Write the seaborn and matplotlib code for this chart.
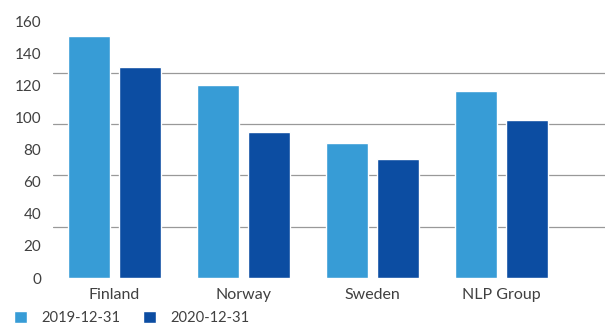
import numpy as np
import pandas as pd
import matplotlib
matplotlib.use("Agg")
import matplotlib.pyplot as plt
import seaborn as sns

# ==========================================
# Data
# ==========================================

regions = ["Finland", "Norway", "Sweden", "NLP Group"]
series = ["2019-12-31", "2020-12-31"]
values_2019 = [151, 120, 84, 116.6]
values_2020 = [131.5, 91, 74, 98.5]
ytick_values = list(range(0, 161, 20))
grid_values = list(range(0, 161, 32))

colors = ["#379CD6", "#0C4DA2"]
text_color = "#404040"

df = pd.DataFrame({
    "region": regions * 2,
    "date": [series[0]] * len(regions) + [series[1]] * len(regions),
    "value": values_2019 + values_2020,
})

# ==========================================
# Plot
# ==========================================

sns.set_style("white")
plt.rcParams["font.family"] = ["Lato", "DejaVu Sans"]

fig = plt.figure(figsize=(6.05, 3.24), dpi=100)
ax = fig.add_axes([53 / 605, 1 - 278 / 324, 1 - 53 / 605, (278 - 21.3) / 324])

sns.barplot(
    data=df,
    x="region",
    y="value",
    hue="date",
    palette=colors,
    width=0.79,
    gap=0.175,
    saturation=1,
    ax=ax,
)

ax.set_ylim(0, 160)
ax.set_xlim(-0.477, 3.80)
ax.set_xlabel("")
ax.set_ylabel("")

ax.set_yticks(ytick_values)
ax.set_yticks(grid_values, minor=True)
ax.grid(False)
ax.grid(which="minor", axis="y", color="#999999", linewidth=0.9)
ax.set_axisbelow(True)

ax.tick_params(axis="y", which="both", length=0, pad=8.6, labelsize=11,
               labelcolor=text_color)
ax.tick_params(axis="x", length=0, pad=7.5, labelsize=11.5, labelcolor=text_color)

for s in ax.spines.values():
    s.set_visible(False)

handles, labels = ax.get_legend_handles_labels()
ax.get_legend().remove()
fig.legend(
    handles, labels,
    loc="center left",
    bbox_to_anchor=(14 / 605, 6 / 324),
    ncol=2,
    frameon=False,
    fontsize=10.6,
    labelcolor=text_color,
    handlelength=0.88,
    handleheight=0.88,
    handletextpad=0.95,
    columnspacing=1.6,
    borderpad=0,
    borderaxespad=0,
)

plt.savefig("out.png", dpi=100)
